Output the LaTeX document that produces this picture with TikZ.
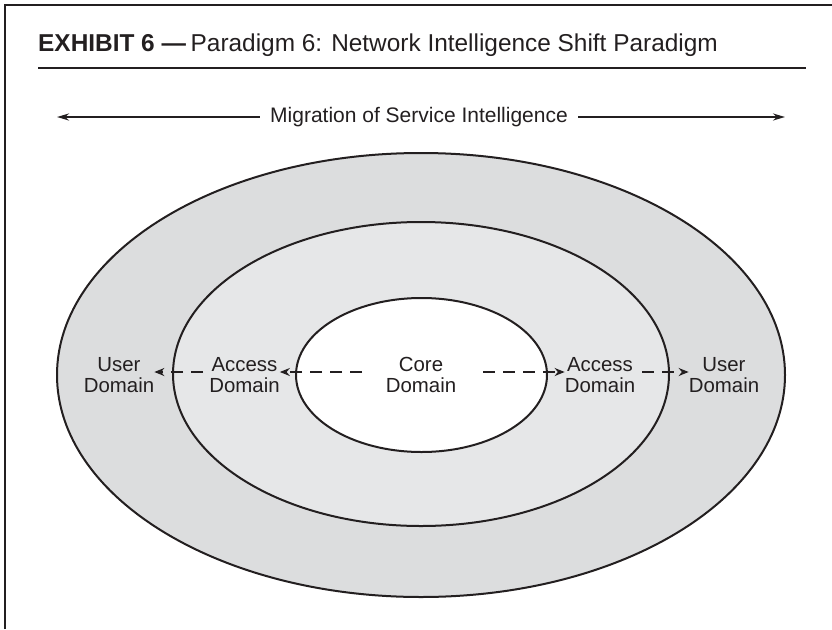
\documentclass[tikz,border=0pt]{standalone}
\usepackage{fontspec}
\setmainfont{Liberation Sans}
\usetikzlibrary{arrows.meta}
\definecolor{ink}{HTML}{231F20}
\definecolor{userfill}{HTML}{DCDDDE}
\definecolor{accessfill}{HTML}{E6E7E8}
\tikzset{
  ringline/.style={draw=ink, line width=2pt},
  domlabel/.style={align=center, font=\fontsize{20.4}{21.5}\selectfont, text=ink, inner sep=0pt},
  headtext/.style={inner sep=0pt, text=ink, font=\fontsize{24.4}{26}\selectfont},
  flowarrow/.style={ink, line width=2pt, dash pattern=on 12pt off 8pt, -{Stealth[length=10pt,width=8pt]}},
  spanarrow/.style={ink, line width=2pt, -{Stealth[length=12pt,width=7pt]}},
}
\begin{document}
\begin{tikzpicture}[x=1pt,y=-1pt]
  \useasboundingbox (0,0) rectangle (832,629);
  % page frame
  \draw[ink, line width=2.5pt] (5,629) -- (5,5) -- (832,5);
  % heading
  \node[headtext, anchor=base west] (titlekey) at (38,51) {\textbf{EXHIBIT 6 —}};
  \node[headtext, anchor=base east] (titletext) at (718,51) {Paradigm 6: Network Intelligence Shift Paradigm};
  \draw[ink, line width=2pt] (38,68) -- (806,68);
  % migration arrow
  \node[domlabel, font=\fontsize{21}{22}\selectfont, fill=white, inner xsep=10pt] (mig) at (419,117) {Migration of Service Intelligence};
  \coordinate (migL) at (57,117);
  \coordinate (migR) at (785,117);
  \draw[spanarrow] (mig.west) -- (migL);
  \draw[spanarrow] (mig.east) -- (migR);
  % domains
  \draw[ringline, fill=userfill] (421,375) ellipse [x radius=364, y radius=222];
  \draw[ringline, fill=accessfill] (421,374) ellipse [x radius=248, y radius=152];
  \draw[ringline, fill=white] (421.5,375) ellipse [x radius=125.5, y radius=77];
  % labels
  \node[domlabel] (userL) at (119,375) {User\\Domain};
  \node[domlabel] (accL) at (244.5,375) {Access\\Domain};
  \node[domlabel] (core) at (421,375) {Core\\Domain};
  \node[domlabel] (accR) at (600,375) {Access\\Domain};
  \node[domlabel] (userR) at (724,375) {User\\Domain};
  % flows
  \coordinate (c1) at (362,372);
  \coordinate (c2) at (483,372);
  \coordinate (a1) at (203,372);
  \coordinate (a2) at (642,372);
  \draw[flowarrow] (c1) -- (accL.east |- c1);
  \draw[flowarrow] (c2) -- (accR.west |- c2);
  \draw[flowarrow] (a1) -- (userL.east |- a1);
  \draw[flowarrow] (a2) -- (userR.west |- a2);
\end{tikzpicture}
\end{document}
